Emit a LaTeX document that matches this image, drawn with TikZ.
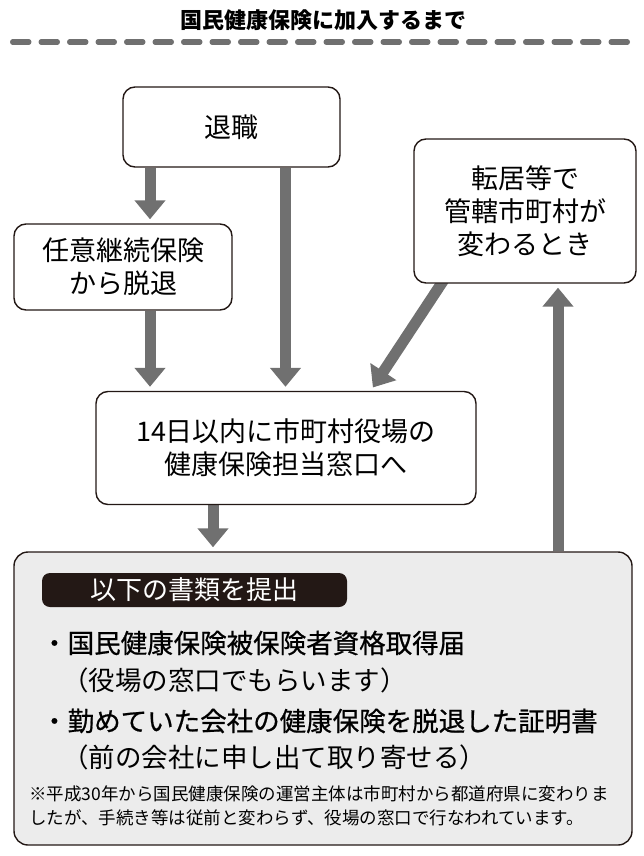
\documentclass[tikz,border=0pt]{standalone}
\usepackage{fontspec}
\setmainfont{Noto Sans CJK JP}
\newfontfamily\medfont[FakeBold=0.7]{Noto Sans CJK JP}
\usetikzlibrary{arrows.meta}

\definecolor{arrowgray}{HTML}{707070}
\definecolor{inkline}{HTML}{231815}
\definecolor{panelgray}{HTML}{ECECEC}

\pgfdeclarelayer{background}
\pgfsetlayers{background,main}

\tikzset{
  stepbox/.style={draw=inkline, line width=1.4pt, rounded corners=12pt, fill=white,
    align=center, inner sep=0pt, font=\fontsize{27}{33}\selectfont},
  flow/.style={draw=arrowgray, line width=11pt, -{Triangle[width=30pt,length=19pt]},
    shorten >=4pt},
  doctext/.style={anchor=west, inner sep=0pt, font=\fontsize{26.5}{30}\selectfont},
  notetext/.style={anchor=west, inner sep=0pt, font=\fontsize{17.5}{20}\selectfont},
}

\begin{document}
\begin{tikzpicture}[x=1pt,y=-1pt]
  \useasboundingbox (0,0) rectangle (644,856);

  % title and rule
  \node at (323,20) (title) {\fontsize{22}{22}\selectfont\bfseries 国民健康保険に加入するまで};
  \draw[arrowgray, line width=5.5pt, line cap=round, dash pattern=on 16pt off 12.5pt] (12.75,42) -- (633.25,42);

  % steps
  \node[stepbox, minimum width=217pt, minimum height=80pt] at (231.5,127) (taishoku) {退職};
  \node[stepbox, minimum width=218pt, minimum height=86pt] at (123,267) (nin) {任意継続保険\\から脱退};
  \node[stepbox, minimum width=222pt, minimum height=144pt] at (525,211) (tenkyo) {転居等で\\管轄市町村が\\変わるとき};
  \node[stepbox, minimum width=380pt, minimum height=113pt] at (286,448) (madoguchi) {14日以内に市町村役場の\\健康保険担当窓口へ};

  % documents panel
  \node[draw=inkline, line width=1.4pt, rounded corners=14pt, fill=panelgray,
    minimum width=618pt, minimum height=293pt] at (323,698.5) (teishutsu) {};
  \node[fill=inkline, rounded corners=8pt, text=white, minimum width=305pt, minimum height=34pt,
    inner sep=0pt, font=\fontsize{26}{26}\selectfont] at (194.5,590) (shorui) {以下の書類を提出};

  \node[doctext] at (41,643) (doc1) {\medfont ・国民健康保険被保険者資格取得届};
  \node[doctext] at (62,680) (doc1sub) {（役場の窓口でもらいます）};
  \node[doctext] at (41,721) (doc2) {\medfont ・勤めていた会社の健康保険を脱退した証明書};
  \node[doctext] at (62,757) (doc2sub) {（前の会社に申し出て取り寄せる）};
  \node[notetext] at (29,794) (note1) {※平成30年から国民健康保険の運営主体は市町村から都道府県に変わりま};
  \node[notetext] at (29,818) (note2) {したが、手続き等は従前と変わらず、役場の窓口で行なわれています。};

  % arrows
  \coordinate (c1) at ([xshift=27pt]nin.north);
  \coordinate (c2) at ([xshift=54pt]taishoku.south);
  \coordinate (c3) at ([xshift=27pt]nin.south);
  \coordinate (c4) at ([xshift=28pt]tenkyo.south west);
  \coordinate (c5) at ([xshift=-106pt]madoguchi.north east);
  \coordinate (c6) at ([xshift=-73pt]madoguchi.south);
  \coordinate (c7) at ([xshift=33pt]tenkyo.south);

  \begin{pgfonlayer}{background}
    \draw[flow] (c1 |- taishoku.south) -- (c1);
    \draw[flow] (c2) -- (c2 |- madoguchi.north);
    \draw[flow] (c3) -- (c3 |- madoguchi.north);
    \draw[flow, shorten <=-6pt] (c4) -- (c5);
    \draw[flow] (c6) -- (c6 |- teishutsu.north);
    \draw[flow] (c7 |- teishutsu.north) -- (c7);
  \end{pgfonlayer}
\end{tikzpicture}
\end{document}
